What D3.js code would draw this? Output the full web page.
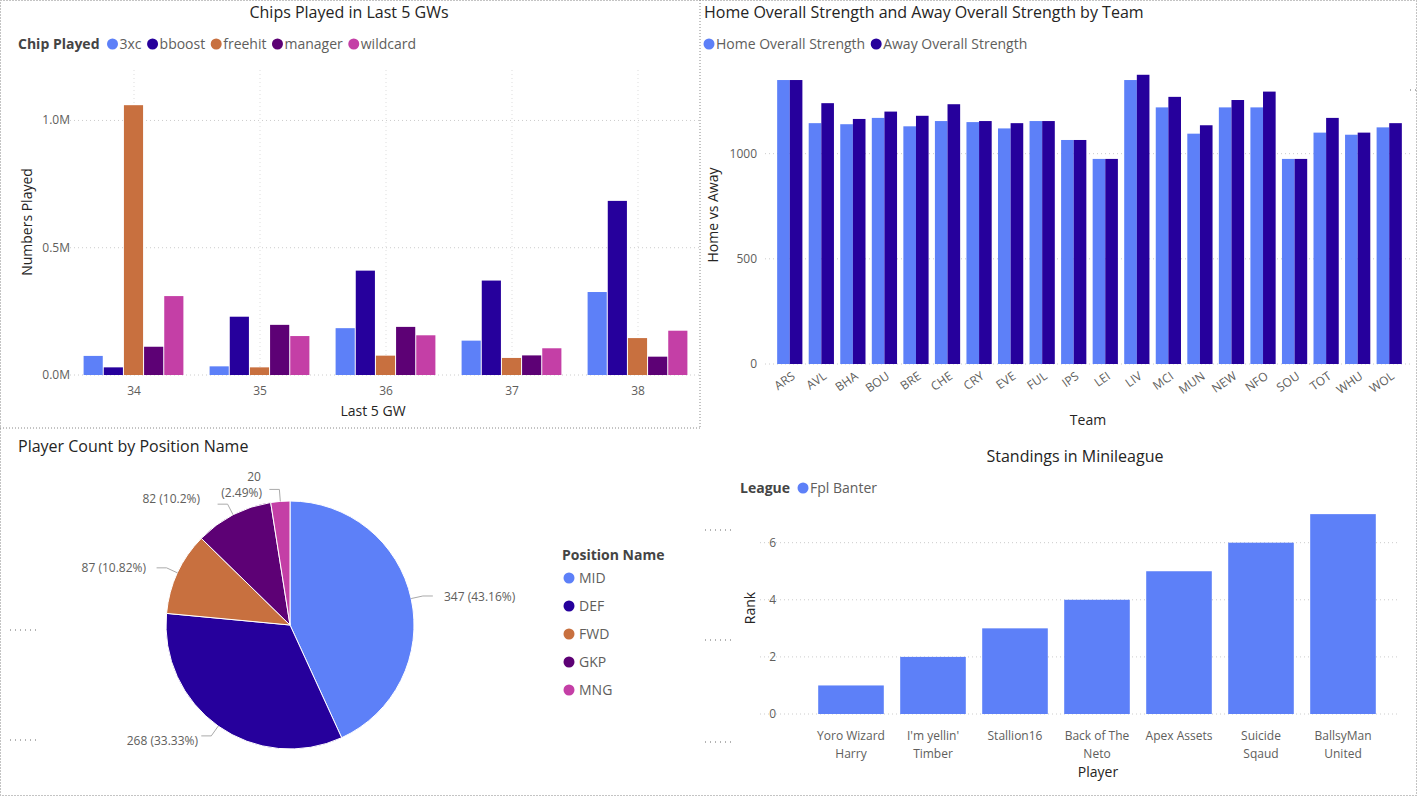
<!DOCTYPE html><html><head><meta charset="utf-8"><script src="https://cdn.jsdelivr.net/npm/d3@7"></script>
<style>body{margin:0;background:#fff;font-family:"Open Sans",sans-serif}svg{display:block}</style></head><body><svg id="c" width="1418" height="797"></svg>
<script>
const gws=["34","35","36","37","38"];
const chips=["3xc","bboost","freehit","manager","wildcard"];
const chipColors=["#5d80f8","#26009c","#c8703f","#5d0175","#c43fa6"];
const chipVals={"3xc":[75000,34000,184000,135000,326000],"bboost":[30000,229000,410000,371000,684000],"freehit":[1060000,30000,76000,67000,145000],"manager":[111000,197000,189000,77000,72000],"wildcard":[310000,153000,156000,105000,174000]};
const teams=["ARS","AVL","BHA","BOU","BRE","CHE","CRY","EVE","FUL","IPS","LEI","LIV","MCI","MUN","NEW","NFO","SOU","TOT","WHU","WOL"];
const homeStr=[1350,1145,1140,1170,1130,1155,1150,1120,1155,1065,975,1350,1220,1095,1220,1220,975,1100,1090,1125];
const awayStr=[1350,1240,1165,1200,1180,1235,1155,1145,1155,1065,975,1375,1270,1135,1255,1295,975,1170,1100,1145];
const positions=["MID","DEF","FWD","GKP","MNG"];
const posCounts=[347,268,87,82,20];
const posLabels=["347 (43.16%)","268 (33.33%)","87 (10.82%)","82 (10.2%)","20 (2.49%)"];
const players=["Yoro Wizard|Harry","I'm yellin'|Timber","Stallion16","Back of The|Neto","Apex Assets","Suicide|Sqaud","BallsyMan|United"];
const ranks=[1,2,3,4,5,6,7];

const svg=d3.select("#c");
const txt=(x,y,t,o={})=>svg.append("text").attr("x",x).attr("y",y).text(t).attr("font-size",o.s||12).attr("fill",o.c||"#605e5c").attr("text-anchor",o.a||"start").attr("font-weight",o.w||"normal");
const dot="#888";
svg.append("rect").attr("x",0.5).attr("y",0.5).attr("width",1416).attr("height",795).attr("fill","none").attr("stroke",dot).attr("stroke-dasharray","1,2");
svg.append("line").attr("x1",0).attr("x2",700).attr("y1",428).attr("y2",428).attr("stroke",dot).attr("stroke-dasharray","1,2");
svg.append("line").attr("x1",700).attr("x2",700).attr("y1",0).attr("y2",428).attr("stroke",dot).attr("stroke-dasharray","1,2");

function grid(g,y,x0,x1,ticks){ticks.forEach(t=>g.append("line").attr("x1",x0).attr("x2",x1).attr("y1",y(t)).attr("y2",y(t)).attr("stroke","#ccc").attr("stroke-dasharray","1,3"));}
function legend(x,y,title,names,cols,s=14){let cx=x;if(title){const t=txt(cx,y,title,{s:s,c:"#444",w:"bold"});cx+=t.node().getComputedTextLength()+8;}
 names.forEach((n,i)=>{svg.append("circle").attr("cx",cx+5).attr("cy",y-5).attr("r",5.5).attr("fill",cols[i]);const t=txt(cx+12,y,n,{s:s});cx+=12+t.node().getComputedTextLength()+6;});}

txt(349,18,"Chips Played in Last 5 GWs",{s:16,c:"#252423",a:"middle"});
legend(18,49,"Chip Played",chips,chipColors);
const x1=d3.scaleBand().domain(gws).range([71,701]).paddingInner(0.2).paddingOuter(0.1);
const xs1=d3.scaleBand().domain(chips).range([0,x1.bandwidth()]);
const y1=d3.scaleLinear().domain([0,1100000]).range([375,95]);
const g1=svg.append("g");
grid(g1,y1,62,700,[0,500000,1000000]);
gws.forEach(g=>g1.append("line").attr("x1",x1(g)+x1.bandwidth()/2).attr("x2",x1(g)+x1.bandwidth()/2).attr("y1",70).attr("y2",375).attr("stroke","#ddd").attr("stroke-dasharray","1,3"));
gws.forEach((gw,i)=>chips.forEach((c,j)=>g1.append("rect").attr("x",x1(gw)+xs1(c)).attr("width",xs1.bandwidth()-1).attr("y",y1(chipVals[c][i])).attr("height",375-y1(chipVals[c][i])).attr("fill",chipColors[j])));
[0,500000,1000000].forEach(t=>txt(70,y1(t)+4,(t/1e6).toFixed(1)+"M",{a:"end"}));
gws.forEach(g=>txt(x1(g)+x1.bandwidth()/2,395,g,{a:"middle"}));
txt(373,416,"Last 5 GW",{s:14,c:"#252423",a:"middle"});
svg.append("text").attr("transform","translate(32,222) rotate(-90)").attr("text-anchor","middle").attr("font-size",14).attr("fill","#252423").text("Numbers Played");

txt(704,18,"Home Overall Strength and Away Overall Strength by Team",{s:16,c:"#252423"});
legend(704,49,null,["Home Overall Strength","Away Overall Strength"],["#5d80f8","#26009c"]);
const x2=d3.scaleBand().domain(teams).range([774,1405]).paddingInner(0.2).paddingOuter(0.1);
const xs2=d3.scaleBand().domain([0,1]).range([0,x2.bandwidth()]);
const y2=d3.scaleLinear().domain([0,1450]).range([364,59]);
const g2=svg.append("g");
grid(g2,y2,765,1410,[0,500,1000]);
teams.forEach((t,i)=>{[homeStr[i],awayStr[i]].forEach((v,k)=>g2.append("rect").attr("x",x2(t)+xs2(k)).attr("width",xs2.bandwidth()).attr("y",y2(v)).attr("height",364-y2(v)).attr("fill",k?"#26009c":"#5d80f8"));
 svg.append("text").attr("transform",`translate(${x2(t)+x2.bandwidth()/2+6},${378}) rotate(-35)`).attr("text-anchor","end").attr("font-size",12).attr("fill","#605e5c").text(t);});
[0,500,1000].forEach(t=>txt(757,y2(t)+4,t,{a:"end"}));
txt(1088,425,"Team",{s:14,c:"#252423",a:"middle"});
svg.append("text").attr("transform","translate(718,215) rotate(-90)").attr("text-anchor","middle").attr("font-size",14).attr("fill","#252423").text("Home vs Away");

txt(18,452,"Player Count by Position Name",{s:16,c:"#252423"});
const cx=290,cy=625,R=124;
const pie=d3.pie().sort(null)(posCounts);
const arc=d3.arc().innerRadius(0).outerRadius(R);
const gp=svg.append("g").attr("transform",`translate(${cx},${cy})`);
gp.selectAll("path").data(pie).join("path").attr("d",arc).attr("fill",(d,i)=>chipColors[i]).attr("stroke","#fff").attr("stroke-width",1);
pie.forEach((d,i)=>{const a=(d.startAngle+d.endAngle)/2;const px=cx+Math.sin(a)*R,py=cy-Math.cos(a)*R;const ex=cx+Math.sin(a)*(R+12),ey=cy-Math.cos(a)*(R+12);
 const right=Math.sin(a)>0;const endX=right?ex+10:ex-10;
 svg.append("polyline").attr("points",`${px},${py} ${ex},${ey} ${endX},${ey}`).attr("fill","none").attr("stroke","#aaa");});
txt(444,601,posLabels[0]);txt(198,745,posLabels[1],{a:"end"});txt(146,572,posLabels[2],{a:"end"});txt(200,503,posLabels[3],{a:"end"});
txt(254,481,"20",{a:"middle"});txt(262,497,"(2.49%)",{a:"end"});
txt(562,560,"Position Name",{s:14,c:"#444",w:"bold"});
positions.forEach((p,i)=>{svg.append("circle").attr("cx",569).attr("cy",578+i*28).attr("r",5.5).attr("fill",chipColors[i]);txt(579,583+i*28,p,{s:14});});

txt(1075,462,"Standings in Minileague",{s:16,c:"#252423",a:"middle"});
legend(740,493,"League",["Fpl Banter"],["#5d80f8"]);
const x4=d3.scaleBand().domain(players).range([810,1384]).paddingInner(0.2).paddingOuter(0.1);
const y4=d3.scaleLinear().domain([0,7.6]).range([714,497]);
const g4=svg.append("g");
grid(g4,y4,760,1400,[0,2,4,6]);
players.forEach((p,i)=>{g4.append("rect").attr("x",x4(p)).attr("width",x4.bandwidth()).attr("y",y4(ranks[i])).attr("height",714-y4(ranks[i])).attr("fill","#5d80f8");
 p.split("|").forEach((l,k)=>txt(x4(p)+x4.bandwidth()/2,740+k*18,l,{a:"middle"}));});
[0,2,4,6].forEach(t=>txt(776,y4(t)+4,t,{a:"end"}));
txt(1098,777,"Player",{s:14,c:"#252423",a:"middle"});
svg.append("text").attr("transform","translate(755,608) rotate(-90)").attr("text-anchor","middle").attr("font-size",14).attr("fill","#252423").text("Rank");
[[705,530],[705,640],[705,742],[10,630],[10,740],[1410,90]].forEach(([x,y])=>svg.append("line").attr("x1",x).attr("x2",x+28).attr("y1",y).attr("y2",y).attr("stroke","#666").attr("stroke-dasharray","1,4"));
</script></body></html>
